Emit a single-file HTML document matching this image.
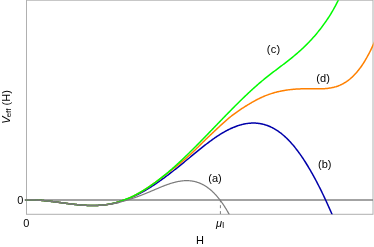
<!DOCTYPE html>
<html><head><meta charset="utf-8"><style>
html,body{margin:0;padding:0;background:#fff;}
svg{display:block;will-change:transform;opacity:0.9999;}
text{font-family:"Liberation Sans",sans-serif;fill:#000;}
</style></head><body>
<svg width="374" height="247" viewBox="0 0 374 247">
<defs><clipPath id="c"><rect x="24" y="0.2" width="349.5" height="214.10000000000002"/></clipPath></defs>
<rect x="26.5" y="0.2" width="346.5" height="214.10000000000002" fill="none" stroke="#b0b0b0" stroke-width="1"/>
<g fill="none" stroke-linejoin="round">
<line x1="25" y1="199.9" x2="373" y2="199.9" stroke="#858585" stroke-width="1.5"/>
<g clip-path="url(#c)">
<line x1="220.4" y1="199.9" x2="220.4" y2="214.3" stroke="#808080" stroke-width="1" stroke-dasharray="3 2.9" stroke-dashoffset="0.6"/>
<path d="M25.20,199.97 L25.82,199.94 L26.44,199.92 L27.05,199.91 L27.67,199.89 L28.29,199.88 L28.91,199.88 L29.52,199.87 L30.14,199.88 L30.76,199.88 L31.38,199.89 L31.99,199.90 L32.61,199.91 L33.23,199.92 L33.85,199.94 L34.46,199.97 L35.08,199.99 L35.70,200.02 L36.32,200.05 L36.94,200.08 L37.55,200.11 L38.17,200.15 L38.79,200.19 L39.41,200.23 L40.02,200.28 L40.64,200.32 L41.26,200.37 L41.88,200.42 L42.49,200.48 L43.11,200.53 L43.73,200.59 L44.35,200.65 L44.96,200.71 L45.58,200.77 L46.20,200.83 L46.82,200.90 L47.43,200.96 L48.05,201.03 L48.67,201.10 L49.29,201.17 L49.91,201.24 L50.52,201.31 L51.14,201.39 L51.76,201.46 L52.38,201.54 L52.99,201.62 L53.61,201.69 L54.23,201.77 L54.85,201.85 L55.46,201.93 L56.08,202.01 L56.70,202.09 L57.32,202.18 L57.93,202.26 L58.55,202.34 L59.17,202.42 L59.79,202.51 L60.41,202.59 L61.02,202.67 L61.64,202.75 L62.26,202.84 L62.88,202.92 L63.49,203.00 L64.11,203.09 L64.73,203.17 L65.35,203.25 L65.96,203.33 L66.58,203.41 L67.20,203.49 L67.82,203.57 L68.43,203.65 L69.05,203.73 L69.67,203.81 L70.29,203.88 L70.91,203.96 L71.52,204.03 L72.14,204.11 L72.76,204.18 L73.38,204.25 L73.99,204.32 L74.61,204.39 L75.23,204.46 L75.85,204.52 L76.46,204.59 L77.08,204.65 L77.70,204.71 L78.32,204.77 L78.93,204.83 L79.55,204.88 L80.17,204.94 L80.79,204.99 L81.40,205.04 L82.02,205.09 L82.64,205.13 L83.26,205.18 L83.88,205.22 L84.49,205.26 L85.11,205.29 L85.73,205.33 L86.35,205.36 L86.96,205.39 L87.58,205.41 L88.20,205.44 L88.82,205.46 L89.43,205.48 L90.05,205.49 L90.67,205.50 L91.29,205.51 L91.90,205.52 L92.52,205.52 L93.14,205.52 L93.76,205.52 L94.38,205.51 L94.99,205.50 L95.61,205.48 L96.23,205.47 L96.85,205.45 L97.46,205.42 L98.08,205.39 L98.70,205.36 L99.32,205.32 L99.93,205.28 L100.55,205.24 L101.17,205.19 L101.79,205.14 L102.40,205.08 L103.02,205.02 L103.64,204.95 L104.26,204.88 L104.87,204.81 L105.49,204.73 L106.11,204.65 L106.73,204.56 L107.35,204.47 L107.96,204.37 L108.58,204.27 L109.20,204.16 L109.82,204.05 L110.43,203.93 L111.05,203.81 L111.67,203.68 L112.29,203.55 L112.90,203.41 L113.52,203.26 L114.14,203.10 L114.76,202.94 L115.37,202.77 L115.99,202.60 L116.61,202.42 L117.23,202.24 L117.85,202.06 L118.46,201.87 L119.08,201.68 L119.70,201.49 L120.32,201.30 L120.93,201.11 L121.55,200.91 L122.17,200.72 L122.79,200.52 L123.40,200.32 L124.02,200.12 L124.64,199.92 L125.26,199.71 L125.87,199.50 L126.49,199.29 L127.11,199.07 L127.73,198.84 L128.35,198.61 L128.96,198.37 L129.58,198.13 L130.20,197.88 L130.82,197.63 L131.43,197.37 L132.05,197.11 L132.67,196.84 L133.29,196.57 L133.90,196.29 L134.52,196.01 L135.14,195.73 L135.76,195.43 L136.37,195.14 L136.99,194.84 L137.61,194.53 L138.23,194.22 L138.84,193.91 L139.46,193.59 L140.08,193.27 L140.70,192.94 L141.32,192.61 L141.93,192.27 L142.55,191.93 L143.17,191.59 L143.79,191.24 L144.40,190.89 L145.02,190.54 L145.64,190.18 L146.26,189.81 L146.87,189.45 L147.49,189.07 L148.11,188.70 L148.73,188.32 L149.34,187.94 L149.96,187.55 L150.58,187.16 L151.20,186.77 L151.82,186.38 L152.43,185.98 L153.05,185.57 L153.67,185.17 L154.29,184.76 L154.90,184.35 L155.52,183.93 L156.14,183.51 L156.76,183.09 L157.37,182.67 L157.99,182.24 L158.61,181.81 L159.23,181.38 L159.84,180.94 L160.46,180.50 L161.08,180.06 L161.70,179.62 L162.32,179.17 L162.93,178.72 L163.55,178.27 L164.17,177.82 L164.79,177.36 L165.40,176.90 L166.02,176.44 L166.64,175.98 L167.26,175.51 L167.87,175.05 L168.49,174.58 L169.11,174.10 L169.73,173.63 L170.34,173.15 L170.96,172.68 L171.58,172.20 L172.20,171.72 L172.81,171.23 L173.43,170.75 L174.05,170.26 L174.67,169.78 L175.29,169.29 L175.90,168.80 L176.52,168.30 L177.14,167.81 L177.76,167.31 L178.37,166.82 L178.99,166.32 L179.61,165.82 L180.23,165.32 L180.84,164.82 L181.46,164.32 L182.08,163.81 L182.70,163.31 L183.31,162.80 L183.93,162.30 L184.55,161.79 L185.17,161.28 L185.79,160.78 L186.40,160.27 L187.02,159.76 L187.64,159.25 L188.26,158.74 L188.87,158.23 L189.49,157.72 L190.11,157.20 L190.73,156.69 L191.34,156.18 L191.96,155.67 L192.58,155.16 L193.20,154.65 L193.81,154.14 L194.43,153.63 L195.05,153.13 L195.67,152.62 L196.28,152.11 L196.90,151.61 L197.52,151.10 L198.14,150.60 L198.76,150.10 L199.37,149.60 L199.99,149.10 L200.61,148.61 L201.23,148.11 L201.84,147.62 L202.46,147.13 L203.08,146.64 L203.70,146.15 L204.31,145.67 L204.93,145.19 L205.55,144.71 L206.17,144.23 L206.78,143.76 L207.40,143.29 L208.02,142.82 L208.64,142.36 L209.26,141.89 L209.87,141.44 L210.49,140.98 L211.11,140.53 L211.73,140.08 L212.34,139.64 L212.96,139.20 L213.58,138.76 L214.20,138.33 L214.81,137.90 L215.43,137.47 L216.05,137.05 L216.67,136.64 L217.28,136.22 L217.90,135.82 L218.52,135.42 L219.14,135.02 L219.76,134.63 L220.37,134.24 L220.99,133.86 L221.61,133.48 L222.23,133.11 L222.84,132.74 L223.46,132.38 L224.08,132.03 L224.70,131.68 L225.31,131.33 L225.93,131.00 L226.55,130.67 L227.17,130.34 L227.78,130.02 L228.40,129.71 L229.02,129.40 L229.64,129.10 L230.25,128.80 L230.87,128.52 L231.49,128.24 L232.11,127.96 L232.73,127.69 L233.34,127.43 L233.96,127.18 L234.58,126.93 L235.20,126.69 L235.81,126.46 L236.43,126.23 L237.05,126.01 L237.67,125.80 L238.28,125.59 L238.90,125.40 L239.52,125.21 L240.14,125.02 L240.75,124.85 L241.37,124.68 L241.99,124.52 L242.61,124.37 L243.23,124.23 L243.84,124.09 L244.46,123.96 L245.08,123.84 L245.70,123.73 L246.31,123.63 L246.93,123.53 L247.55,123.45 L248.17,123.37 L248.78,123.30 L249.40,123.24 L250.02,123.19 L250.64,123.14 L251.25,123.11 L251.87,123.08 L252.49,123.07 L253.11,123.06 L253.73,123.06 L254.34,123.07 L254.96,123.09 L255.58,123.12 L256.20,123.16 L256.81,123.21 L257.43,123.26 L258.05,123.33 L258.67,123.41 L259.28,123.49 L259.90,123.59 L260.52,123.70 L261.14,123.81 L261.75,123.94 L262.37,124.08 L262.99,124.22 L263.61,124.38 L264.22,124.55 L264.84,124.72 L265.46,124.91 L266.08,125.11 L266.70,125.32 L267.31,125.54 L267.93,125.77 L268.55,126.01 L269.17,126.26 L269.78,126.53 L270.40,126.80 L271.02,127.09 L271.64,127.38 L272.25,127.69 L272.87,128.01 L273.49,128.34 L274.11,128.68 L274.72,129.04 L275.34,129.40 L275.96,129.78 L276.58,130.17 L277.20,130.57 L277.81,130.98 L278.43,131.40 L279.05,131.84 L279.67,132.29 L280.28,132.75 L280.90,133.22 L281.52,133.71 L282.14,134.21 L282.75,134.72 L283.37,135.24 L283.99,135.77 L284.61,136.32 L285.22,136.88 L285.84,137.45 L286.46,138.04 L287.08,138.64 L287.69,139.25 L288.31,139.88 L288.93,140.52 L289.55,141.17 L290.17,141.83 L290.78,142.51 L291.40,143.20 L292.02,143.90 L292.64,144.62 L293.25,145.35 L293.87,146.09 L294.49,146.84 L295.11,147.61 L295.72,148.39 L296.34,149.18 L296.96,149.98 L297.58,150.80 L298.19,151.62 L298.81,152.46 L299.43,153.32 L300.05,154.18 L300.67,155.06 L301.28,155.95 L301.90,156.85 L302.52,157.76 L303.14,158.68 L303.75,159.62 L304.37,160.57 L304.99,161.53 L305.61,162.50 L306.22,163.48 L306.84,164.48 L307.46,165.48 L308.08,166.50 L308.69,167.53 L309.31,168.57 L309.93,169.62 L310.55,170.69 L311.17,171.76 L311.78,172.85 L312.40,173.94 L313.02,175.05 L313.64,176.17 L314.25,177.30 L314.87,178.44 L315.49,179.59 L316.11,180.75 L316.72,181.93 L317.34,183.11 L317.96,184.31 L318.58,185.51 L319.19,186.73 L319.81,187.96 L320.43,189.19 L321.05,190.44 L321.66,191.70 L322.28,192.97 L322.90,194.25 L323.52,195.53 L324.14,196.83 L324.75,198.14 L325.37,199.46 L325.99,200.79 L326.61,202.13 L327.22,203.48 L327.84,204.84 L328.46,206.21 L329.08,207.59 L329.69,208.98 L330.31,210.38 L330.93,211.78 L331.55,213.20 L332.16,214.63 L332.78,216.07 L333.40,217.51" stroke="#0000aa" stroke-width="1.5"/>
<path d="M25.20,199.97 L25.90,199.94 L26.61,199.92 L27.31,199.90 L28.01,199.89 L28.72,199.88 L29.42,199.87 L30.12,199.87 L30.82,199.88 L31.53,199.89 L32.23,199.90 L32.93,199.92 L33.64,199.94 L34.34,199.96 L35.04,199.99 L35.75,200.02 L36.45,200.05 L37.15,200.09 L37.85,200.13 L38.56,200.18 L39.26,200.22 L39.96,200.27 L40.67,200.33 L41.37,200.38 L42.07,200.44 L42.78,200.50 L43.48,200.56 L44.18,200.63 L44.88,200.70 L45.59,200.77 L46.29,200.84 L46.99,200.91 L47.70,200.99 L48.40,201.07 L49.10,201.15 L49.81,201.23 L50.51,201.31 L51.21,201.40 L51.91,201.48 L52.62,201.57 L53.32,201.66 L54.02,201.75 L54.73,201.84 L55.43,201.93 L56.13,202.02 L56.84,202.11 L57.54,202.20 L58.24,202.30 L58.94,202.39 L59.65,202.49 L60.35,202.58 L61.05,202.68 L61.76,202.77 L62.46,202.86 L63.16,202.96 L63.87,203.05 L64.57,203.15 L65.27,203.24 L65.97,203.33 L66.68,203.42 L67.38,203.52 L68.08,203.61 L68.79,203.70 L69.49,203.78 L70.19,203.87 L70.90,203.96 L71.60,204.04 L72.30,204.13 L73.00,204.21 L73.71,204.29 L74.41,204.37 L75.11,204.44 L75.82,204.52 L76.52,204.59 L77.22,204.66 L77.93,204.73 L78.63,204.80 L79.33,204.86 L80.03,204.93 L80.74,204.99 L81.44,205.04 L82.14,205.10 L82.85,205.15 L83.55,205.20 L84.25,205.24 L84.96,205.28 L85.66,205.32 L86.36,205.36 L87.06,205.39 L87.77,205.42 L88.47,205.45 L89.17,205.47 L89.88,205.49 L90.58,205.50 L91.28,205.51 L91.99,205.52 L92.69,205.52 L93.39,205.52 L94.09,205.51 L94.80,205.50 L95.50,205.49 L96.20,205.47 L96.91,205.44 L97.61,205.41 L98.31,205.38 L99.02,205.34 L99.72,205.30 L100.42,205.25 L101.12,205.19 L101.83,205.13 L102.53,205.07 L103.23,205.00 L103.94,204.92 L104.64,204.84 L105.34,204.75 L106.05,204.66 L106.75,204.56 L107.45,204.45 L108.15,204.34 L108.86,204.22 L109.56,204.10 L110.26,203.97 L110.97,203.83 L111.67,203.68 L112.37,203.53 L113.08,203.37 L113.78,203.20 L114.48,203.03 L115.18,202.84 L115.89,202.65 L116.59,202.46 L117.29,202.25 L118.00,202.05 L118.70,201.84 L119.40,201.62 L120.11,201.40 L120.81,201.17 L121.51,200.95 L122.21,200.71 L122.92,200.47 L123.62,200.23 L124.32,199.98 L125.03,199.73 L125.73,199.46 L126.43,199.20 L127.14,198.92 L127.84,198.63 L128.54,198.34 L129.24,198.04 L129.95,197.73 L130.65,197.41 L131.35,197.09 L132.06,196.76 L132.76,196.42 L133.46,196.07 L134.17,195.72 L134.87,195.36 L135.57,194.99 L136.27,194.62 L136.98,194.24 L137.68,193.85 L138.38,193.46 L139.09,193.06 L139.79,192.65 L140.49,192.24 L141.20,191.82 L141.90,191.40 L142.60,190.97 L143.31,190.54 L144.01,190.10 L144.71,189.65 L145.41,189.20 L146.12,188.75 L146.82,188.29 L147.52,187.83 L148.23,187.36 L148.93,186.88 L149.63,186.41 L150.34,185.93 L151.04,185.44 L151.74,184.95 L152.44,184.46 L153.15,183.96 L153.85,183.46 L154.55,182.95 L155.26,182.45 L155.96,181.93 L156.66,181.42 L157.37,180.90 L158.07,180.38 L158.77,179.86 L159.47,179.33 L160.18,178.81 L160.88,178.28 L161.58,177.74 L162.29,177.21 L162.99,176.67 L163.69,176.14 L164.40,175.60 L165.10,175.05 L165.80,174.51 L166.50,173.97 L167.21,173.42 L167.91,172.87 L168.61,172.33 L169.32,171.78 L170.02,171.23 L170.72,170.68 L171.43,170.13 L172.13,169.58 L172.83,169.02 L173.53,168.47 L174.24,167.92 L174.94,167.36 L175.64,166.80 L176.35,166.24 L177.05,165.68 L177.75,165.12 L178.46,164.55 L179.16,163.98 L179.86,163.41 L180.56,162.83 L181.27,162.26 L181.97,161.67 L182.67,161.09 L183.38,160.50 L184.08,159.91 L184.78,159.31 L185.49,158.71 L186.19,158.10 L186.89,157.49 L187.59,156.87 L188.30,156.25 L189.00,155.62 L189.70,154.99 L190.41,154.35 L191.11,153.70 L191.81,153.05 L192.52,152.40 L193.22,151.73 L193.92,151.06 L194.62,150.39 L195.33,149.70 L196.03,149.02 L196.73,148.33 L197.44,147.64 L198.14,146.94 L198.84,146.24 L199.55,145.54 L200.25,144.85 L200.95,144.15 L201.65,143.45 L202.36,142.75 L203.06,142.06 L203.76,141.37 L204.47,140.68 L205.17,140.00 L205.87,139.32 L206.58,138.64 L207.28,137.96 L207.98,137.29 L208.68,136.61 L209.39,135.94 L210.09,135.28 L210.79,134.61 L211.50,133.94 L212.20,133.28 L212.90,132.62 L213.61,131.96 L214.31,131.30 L215.01,130.64 L215.71,129.98 L216.42,129.33 L217.12,128.67 L217.82,128.02 L218.53,127.37 L219.23,126.71 L219.93,126.06 L220.64,125.41 L221.34,124.76 L222.04,124.12 L222.74,123.48 L223.45,122.84 L224.15,122.21 L224.85,121.58 L225.56,120.95 L226.26,120.34 L226.96,119.73 L227.67,119.12 L228.37,118.53 L229.07,117.94 L229.77,117.36 L230.48,116.79 L231.18,116.23 L231.88,115.68 L232.59,115.14 L233.29,114.60 L233.99,114.07 L234.70,113.55 L235.40,113.04 L236.10,112.53 L236.80,112.03 L237.51,111.53 L238.21,111.05 L238.91,110.56 L239.62,110.09 L240.32,109.62 L241.02,109.15 L241.73,108.69 L242.43,108.23 L243.13,107.78 L243.83,107.33 L244.54,106.89 L245.24,106.44 L245.94,106.01 L246.65,105.57 L247.35,105.14 L248.05,104.71 L248.76,104.29 L249.46,103.86 L250.16,103.45 L250.86,103.03 L251.57,102.62 L252.27,102.22 L252.97,101.82 L253.68,101.43 L254.38,101.04 L255.08,100.65 L255.79,100.27 L256.49,99.90 L257.19,99.53 L257.89,99.17 L258.60,98.82 L259.30,98.47 L260.00,98.13 L260.71,97.79 L261.41,97.46 L262.11,97.14 L262.82,96.83 L263.52,96.52 L264.22,96.22 L264.93,95.93 L265.63,95.65 L266.33,95.37 L267.03,95.10 L267.74,94.84 L268.44,94.58 L269.14,94.33 L269.85,94.09 L270.55,93.86 L271.25,93.63 L271.96,93.40 L272.66,93.19 L273.36,92.98 L274.06,92.77 L274.77,92.58 L275.47,92.39 L276.17,92.20 L276.88,92.02 L277.58,91.85 L278.28,91.68 L278.99,91.52 L279.69,91.36 L280.39,91.21 L281.09,91.06 L281.80,90.92 L282.50,90.79 L283.20,90.66 L283.91,90.53 L284.61,90.41 L285.31,90.30 L286.02,90.19 L286.72,90.08 L287.42,89.98 L288.12,89.88 L288.83,89.79 L289.53,89.71 L290.23,89.62 L290.94,89.54 L291.64,89.47 L292.34,89.40 L293.05,89.33 L293.75,89.27 L294.45,89.21 L295.15,89.16 L295.86,89.11 L296.56,89.06 L297.26,89.02 L297.97,88.98 L298.67,88.94 L299.37,88.91 L300.08,88.88 L300.78,88.85 L301.48,88.82 L302.18,88.80 L302.89,88.78 L303.59,88.77 L304.29,88.76 L305.00,88.75 L305.70,88.74 L306.40,88.73 L307.11,88.73 L307.81,88.73 L308.51,88.73 L309.21,88.73 L309.92,88.74 L310.62,88.75 L311.32,88.76 L312.03,88.77 L312.73,88.78 L313.43,88.79 L314.14,88.80 L314.84,88.81 L315.54,88.82 L316.24,88.83 L316.95,88.83 L317.65,88.84 L318.35,88.84 L319.06,88.83 L319.76,88.83 L320.46,88.82 L321.17,88.80 L321.87,88.78 L322.57,88.75 L323.27,88.72 L323.98,88.68 L324.68,88.64 L325.38,88.59 L326.09,88.53 L326.79,88.46 L327.49,88.39 L328.20,88.30 L328.90,88.21 L329.60,88.10 L330.30,87.99 L331.01,87.87 L331.71,87.73 L332.41,87.58 L333.12,87.43 L333.82,87.26 L334.52,87.07 L335.23,86.88 L335.93,86.67 L336.63,86.44 L337.33,86.20 L338.04,85.95 L338.74,85.68 L339.44,85.40 L340.15,85.10 L340.85,84.78 L341.55,84.45 L342.26,84.09 L342.96,83.73 L343.66,83.34 L344.36,82.93 L345.07,82.51 L345.77,82.06 L346.47,81.60 L347.18,81.11 L347.88,80.61 L348.58,80.08 L349.29,79.53 L349.99,78.96 L350.69,78.36 L351.39,77.75 L352.10,77.11 L352.80,76.44 L353.50,75.76 L354.21,75.04 L354.91,74.30 L355.61,73.54 L356.32,72.75 L357.02,71.93 L357.72,71.09 L358.42,70.22 L359.13,69.32 L359.83,68.40 L360.53,67.44 L361.24,66.46 L361.94,65.45 L362.64,64.40 L363.35,63.33 L364.05,62.23 L364.75,61.09 L365.45,59.93 L366.16,58.73 L366.86,57.50 L367.56,56.23 L368.27,54.94 L368.97,53.61 L369.67,52.24 L370.38,50.84 L371.08,49.41 L371.78,47.94 L372.48,46.43 L373.19,44.89 L373.89,43.31 L374.59,41.70 L375.30,40.04 L376.00,38.35" stroke="#ff8000" stroke-width="1.5"/>
<path d="M25.20,199.97 L25.83,199.94 L26.47,199.92 L27.10,199.90 L27.74,199.89 L28.37,199.88 L29.00,199.88 L29.64,199.87 L30.27,199.88 L30.90,199.88 L31.54,199.89 L32.17,199.90 L32.81,199.91 L33.44,199.93 L34.07,199.95 L34.71,199.97 L35.34,200.00 L35.98,200.03 L36.61,200.06 L37.24,200.10 L37.88,200.13 L38.51,200.17 L39.15,200.22 L39.78,200.26 L40.41,200.31 L41.05,200.36 L41.68,200.41 L42.31,200.46 L42.95,200.52 L43.58,200.57 L44.22,200.63 L44.85,200.69 L45.48,200.76 L46.12,200.82 L46.75,200.89 L47.39,200.96 L48.02,201.03 L48.65,201.10 L49.29,201.17 L49.92,201.24 L50.55,201.32 L51.19,201.39 L51.82,201.47 L52.46,201.55 L53.09,201.63 L53.72,201.71 L54.36,201.79 L54.99,201.87 L55.63,201.95 L56.26,202.04 L56.89,202.12 L57.53,202.20 L58.16,202.29 L58.79,202.37 L59.43,202.46 L60.06,202.54 L60.70,202.63 L61.33,202.71 L61.96,202.80 L62.60,202.88 L63.23,202.97 L63.87,203.05 L64.50,203.14 L65.13,203.22 L65.77,203.30 L66.40,203.39 L67.04,203.47 L67.67,203.55 L68.30,203.63 L68.94,203.71 L69.57,203.79 L70.20,203.87 L70.84,203.95 L71.47,204.03 L72.11,204.10 L72.74,204.18 L73.37,204.25 L74.01,204.32 L74.64,204.39 L75.28,204.46 L75.91,204.53 L76.54,204.59 L77.18,204.66 L77.81,204.72 L78.44,204.78 L79.08,204.84 L79.71,204.90 L80.35,204.95 L80.98,205.01 L81.61,205.06 L82.25,205.10 L82.88,205.15 L83.52,205.19 L84.15,205.24 L84.78,205.27 L85.42,205.31 L86.05,205.34 L86.69,205.38 L87.32,205.40 L87.95,205.43 L88.59,205.45 L89.22,205.47 L89.85,205.49 L90.49,205.50 L91.12,205.51 L91.76,205.52 L92.39,205.52 L93.02,205.52 L93.66,205.52 L94.29,205.51 L94.93,205.50 L95.56,205.49 L96.19,205.47 L96.83,205.45 L97.46,205.42 L98.09,205.39 L98.73,205.36 L99.36,205.32 L100.00,205.28 L100.63,205.23 L101.26,205.18 L101.90,205.13 L102.53,205.07 L103.17,205.00 L103.80,204.94 L104.43,204.86 L105.07,204.79 L105.70,204.70 L106.34,204.62 L106.97,204.53 L107.60,204.43 L108.24,204.33 L108.87,204.22 L109.50,204.11 L110.14,203.99 L110.77,203.87 L111.41,203.74 L112.04,203.60 L112.67,203.47 L113.31,203.32 L113.94,203.17 L114.58,203.01 L115.21,202.85 L115.84,202.68 L116.48,202.51 L117.11,202.33 L117.74,202.15 L118.38,201.96 L119.01,201.77 L119.65,201.56 L120.28,201.36 L120.91,201.15 L121.55,200.93 L122.18,200.71 L122.82,200.48 L123.45,200.25 L124.08,200.01 L124.72,199.77 L125.35,199.52 L125.98,199.27 L126.62,199.01 L127.25,198.75 L127.89,198.48 L128.52,198.21 L129.15,197.93 L129.79,197.65 L130.42,197.36 L131.06,197.07 L131.69,196.77 L132.32,196.46 L132.96,196.16 L133.59,195.84 L134.23,195.53 L134.86,195.20 L135.49,194.88 L136.13,194.55 L136.76,194.21 L137.39,193.87 L138.03,193.52 L138.66,193.17 L139.30,192.82 L139.93,192.46 L140.56,192.09 L141.20,191.72 L141.83,191.35 L142.47,190.97 L143.10,190.59 L143.73,190.21 L144.37,189.82 L145.00,189.42 L145.63,189.02 L146.27,188.62 L146.90,188.21 L147.54,187.80 L148.17,187.38 L148.80,186.96 L149.44,186.53 L150.07,186.11 L150.71,185.67 L151.34,185.24 L151.97,184.79 L152.61,184.35 L153.24,183.90 L153.88,183.45 L154.51,182.99 L155.14,182.53 L155.78,182.06 L156.41,181.59 L157.04,181.12 L157.68,180.64 L158.31,180.16 L158.95,179.68 L159.58,179.19 L160.21,178.70 L160.85,178.20 L161.48,177.70 L162.12,177.20 L162.75,176.70 L163.38,176.19 L164.02,175.67 L164.65,175.15 L165.28,174.63 L165.92,174.11 L166.55,173.58 L167.19,173.05 L167.82,172.52 L168.45,171.98 L169.09,171.44 L169.72,170.90 L170.36,170.35 L170.99,169.80 L171.62,169.25 L172.26,168.69 L172.89,168.13 L173.53,167.57 L174.16,167.01 L174.79,166.44 L175.43,165.87 L176.06,165.29 L176.69,164.72 L177.33,164.14 L177.96,163.56 L178.60,162.98 L179.23,162.39 L179.86,161.80 L180.50,161.21 L181.13,160.62 L181.77,160.02 L182.40,159.42 L183.03,158.82 L183.67,158.22 L184.30,157.62 L184.93,157.01 L185.57,156.40 L186.20,155.79 L186.84,155.18 L187.47,154.56 L188.10,153.94 L188.74,153.33 L189.37,152.70 L190.01,152.08 L190.64,151.46 L191.27,150.83 L191.91,150.21 L192.54,149.58 L193.17,148.95 L193.81,148.31 L194.44,147.68 L195.08,147.05 L195.71,146.41 L196.34,145.77 L196.98,145.13 L197.61,144.49 L198.25,143.85 L198.88,143.21 L199.51,142.56 L200.15,141.92 L200.78,141.27 L201.42,140.63 L202.05,139.98 L202.68,139.33 L203.32,138.68 L203.95,138.03 L204.58,137.38 L205.22,136.73 L205.85,136.07 L206.49,135.42 L207.12,134.77 L207.75,134.11 L208.39,133.46 L209.02,132.80 L209.66,132.15 L210.29,131.49 L210.92,130.83 L211.56,130.18 L212.19,129.52 L212.82,128.86 L213.46,128.20 L214.09,127.55 L214.73,126.89 L215.36,126.23 L215.99,125.57 L216.63,124.92 L217.26,124.26 L217.90,123.60 L218.53,122.94 L219.16,122.29 L219.80,121.63 L220.43,120.97 L221.07,120.32 L221.70,119.66 L222.33,119.01 L222.97,118.35 L223.60,117.70 L224.23,117.05 L224.87,116.39 L225.50,115.74 L226.14,115.09 L226.77,114.44 L227.40,113.79 L228.04,113.14 L228.67,112.49 L229.31,111.85 L229.94,111.20 L230.57,110.56 L231.21,109.91 L231.84,109.27 L232.47,108.63 L233.11,107.99 L233.74,107.35 L234.38,106.72 L235.01,106.08 L235.64,105.45 L236.28,104.81 L236.91,104.18 L237.55,103.55 L238.18,102.92 L238.81,102.30 L239.45,101.67 L240.08,101.05 L240.72,100.43 L241.35,99.81 L241.98,99.20 L242.62,98.58 L243.25,97.97 L243.88,97.36 L244.52,96.75 L245.15,96.14 L245.79,95.54 L246.42,94.94 L247.05,94.34 L247.69,93.74 L248.32,93.14 L248.96,92.55 L249.59,91.96 L250.22,91.37 L250.86,90.79 L251.49,90.21 L252.12,89.63 L252.76,89.05 L253.39,88.48 L254.03,87.91 L254.66,87.34 L255.29,86.77 L255.93,86.21 L256.56,85.65 L257.20,85.09 L257.83,84.54 L258.46,83.99 L259.10,83.44 L259.73,82.90 L260.36,82.36 L261.00,81.82 L261.63,81.29 L262.27,80.76 L262.90,80.23 L263.53,79.71 L264.17,79.19 L264.80,78.67 L265.44,78.16 L266.07,77.65 L266.70,77.14 L267.34,76.64 L267.97,76.14 L268.61,75.64 L269.24,75.14 L269.87,74.65 L270.51,74.16 L271.14,73.67 L271.77,73.18 L272.41,72.69 L273.04,72.21 L273.68,71.72 L274.31,71.24 L274.94,70.76 L275.58,70.28 L276.21,69.80 L276.85,69.32 L277.48,68.84 L278.11,68.36 L278.75,67.88 L279.38,67.40 L280.01,66.92 L280.65,66.44 L281.28,65.96 L281.92,65.48 L282.55,65.00 L283.18,64.52 L283.82,64.03 L284.45,63.55 L285.09,63.06 L285.72,62.57 L286.35,62.08 L286.99,61.59 L287.62,61.09 L288.26,60.60 L288.89,60.10 L289.52,59.60 L290.16,59.09 L290.79,58.59 L291.42,58.08 L292.06,57.56 L292.69,57.05 L293.33,56.53 L293.96,56.00 L294.59,55.47 L295.23,54.94 L295.86,54.41 L296.50,53.87 L297.13,53.32 L297.76,52.77 L298.40,52.22 L299.03,51.66 L299.66,51.10 L300.30,50.53 L300.93,49.96 L301.57,49.38 L302.20,48.79 L302.83,48.20 L303.47,47.60 L304.10,47.00 L304.74,46.39 L305.37,45.78 L306.00,45.15 L306.64,44.52 L307.27,43.89 L307.91,43.25 L308.54,42.60 L309.17,41.94 L309.81,41.27 L310.44,40.60 L311.07,39.92 L311.71,39.23 L312.34,38.54 L312.98,37.83 L313.61,37.12 L314.24,36.40 L314.88,35.66 L315.51,34.92 L316.15,34.18 L316.78,33.42 L317.41,32.65 L318.05,31.87 L318.68,31.09 L319.31,30.29 L319.95,29.49 L320.58,28.67 L321.22,27.84 L321.85,27.01 L322.48,26.16 L323.12,25.30 L323.75,24.43 L324.39,23.55 L325.02,22.66 L325.65,21.76 L326.29,20.84 L326.92,19.91 L327.55,18.97 L328.19,18.01 L328.82,17.04 L329.46,16.06 L330.09,15.05 L330.72,14.03 L331.36,12.99 L331.99,11.93 L332.63,10.85 L333.26,9.75 L333.89,8.63 L334.53,7.49 L335.16,6.32 L335.80,5.13 L336.43,3.92 L337.06,2.68 L337.70,1.42 L338.33,0.13 L338.96,-1.19 L339.60,-2.54 L340.23,-3.92 L340.87,-5.32 L341.50,-6.76" stroke="#00fa00" stroke-width="1.5"/>
<path d="M25.20,199.97 L25.61,199.95 L26.02,199.93 L26.43,199.92 L26.84,199.91 L27.26,199.90 L27.67,199.89 L28.08,199.89 L28.49,199.88 L28.90,199.88 L29.31,199.88 L29.72,199.87 L30.13,199.88 L30.55,199.88 L30.96,199.88 L31.37,199.89 L31.78,199.89 L32.19,199.90 L32.60,199.91 L33.01,199.92 L33.42,199.93 L33.84,199.94 L34.25,199.96 L34.66,199.97 L35.07,199.99 L35.48,200.01 L35.89,200.03 L36.30,200.05 L36.71,200.07 L37.13,200.09 L37.54,200.11 L37.95,200.14 L38.36,200.16 L38.77,200.19 L39.18,200.22 L39.59,200.25 L40.00,200.28 L40.42,200.31 L40.83,200.34 L41.24,200.37 L41.65,200.41 L42.06,200.44 L42.47,200.47 L42.88,200.51 L43.29,200.55 L43.71,200.59 L44.12,200.62 L44.53,200.66 L44.94,200.70 L45.35,200.74 L45.76,200.79 L46.17,200.83 L46.58,200.87 L46.99,200.92 L47.41,200.96 L47.82,201.00 L48.23,201.05 L48.64,201.10 L49.05,201.14 L49.46,201.19 L49.87,201.24 L50.28,201.29 L50.70,201.34 L51.11,201.38 L51.52,201.43 L51.93,201.48 L52.34,201.54 L52.75,201.59 L53.16,201.64 L53.57,201.69 L53.99,201.74 L54.40,201.79 L54.81,201.85 L55.22,201.90 L55.63,201.95 L56.04,202.01 L56.45,202.06 L56.86,202.12 L57.28,202.17 L57.69,202.22 L58.10,202.28 L58.51,202.33 L58.92,202.39 L59.33,202.44 L59.74,202.50 L60.15,202.55 L60.57,202.61 L60.98,202.66 L61.39,202.72 L61.80,202.78 L62.21,202.83 L62.62,202.89 L63.03,202.94 L63.44,203.00 L63.85,203.05 L64.27,203.11 L64.68,203.16 L65.09,203.21 L65.50,203.27 L65.91,203.32 L66.32,203.38 L66.73,203.43 L67.14,203.48 L67.56,203.54 L67.97,203.59 L68.38,203.64 L68.79,203.70 L69.20,203.75 L69.61,203.80 L70.02,203.85 L70.43,203.90 L70.85,203.95 L71.26,204.00 L71.67,204.05 L72.08,204.10 L72.49,204.15 L72.90,204.20 L73.31,204.24 L73.72,204.29 L74.14,204.34 L74.55,204.38 L74.96,204.43 L75.37,204.47 L75.78,204.52 L76.19,204.56 L76.60,204.60 L77.01,204.64 L77.43,204.68 L77.84,204.72 L78.25,204.76 L78.66,204.80 L79.07,204.84 L79.48,204.88 L79.89,204.91 L80.30,204.95 L80.72,204.98 L81.13,205.02 L81.54,205.05 L81.95,205.08 L82.36,205.11 L82.77,205.14 L83.18,205.17 L83.59,205.20 L84.00,205.23 L84.42,205.25 L84.83,205.28 L85.24,205.30 L85.65,205.32 L86.06,205.34 L86.47,205.37 L86.88,205.38 L87.29,205.40 L87.71,205.42 L88.12,205.43 L88.53,205.45 L88.94,205.46 L89.35,205.47 L89.76,205.48 L90.17,205.49 L90.58,205.50 L91.00,205.51 L91.41,205.51 L91.82,205.52 L92.23,205.52 L92.64,205.52 L93.05,205.52 L93.46,205.52 L93.87,205.51 L94.29,205.51 L94.70,205.50 L95.11,205.49 L95.52,205.49 L95.93,205.47 L96.34,205.46 L96.75,205.45 L97.16,205.43 L97.58,205.41 L97.99,205.39 L98.40,205.37 L98.81,205.35 L99.22,205.33 L99.63,205.30 L100.04,205.27 L100.45,205.24 L100.86,205.21 L101.28,205.18 L101.69,205.15 L102.10,205.11 L102.51,205.08 L102.92,205.04 L103.33,205.00 L103.74,204.96 L104.15,204.91 L104.57,204.87 L104.98,204.82 L105.39,204.77 L105.80,204.72 L106.21,204.67 L106.62,204.62 L107.03,204.57 L107.44,204.51 L107.86,204.45 L108.27,204.40 L108.68,204.34 L109.09,204.27 L109.50,204.21 L109.91,204.15 L110.32,204.08 L110.73,204.01 L111.15,203.94 L111.56,203.88 L111.97,203.80 L112.38,203.73 L112.79,203.66 L113.20,203.58 L113.61,203.51 L114.02,203.43 L114.44,203.35 L114.85,203.27 L115.26,203.18 L115.67,203.10 L116.08,203.01 L116.49,202.93 L116.90,202.84 L117.31,202.75 L117.73,202.65 L118.14,202.56 L118.55,202.46 L118.96,202.36" stroke="#6c6c6c" stroke-width="1.5" stroke-linecap="round"/>
<path d="M25.20,199.97 L25.61,199.95 L26.02,199.93 L26.43,199.92 L26.84,199.91 L27.26,199.90 L27.67,199.89 L28.08,199.89 L28.49,199.88 L28.90,199.88 L29.31,199.88 L29.72,199.87 L30.13,199.88 L30.55,199.88 L30.96,199.88 L31.37,199.89 L31.78,199.89 L32.19,199.90 L32.60,199.91 L33.01,199.92 L33.42,199.93 L33.84,199.94 L34.25,199.96 L34.66,199.97 L35.07,199.99 L35.48,200.01 L35.89,200.03 L36.30,200.05 L36.71,200.07 L37.13,200.09 L37.54,200.11 L37.95,200.14 L38.36,200.16 L38.77,200.19 L39.18,200.22 L39.59,200.25 L40.00,200.28 L40.42,200.31 L40.83,200.34 L41.24,200.37 L41.65,200.41 L42.06,200.44 L42.47,200.47 L42.88,200.51 L43.29,200.55 L43.71,200.59 L44.12,200.62 L44.53,200.66 L44.94,200.70 L45.35,200.74 L45.76,200.79 L46.17,200.83 L46.58,200.87 L46.99,200.92 L47.41,200.96 L47.82,201.00 L48.23,201.05 L48.64,201.10 L49.05,201.14 L49.46,201.19 L49.87,201.24 L50.28,201.29 L50.70,201.34 L51.11,201.38 L51.52,201.43 L51.93,201.48 L52.34,201.54 L52.75,201.59 L53.16,201.64 L53.57,201.69 L53.99,201.74 L54.40,201.79 L54.81,201.85 L55.22,201.90 L55.63,201.95 L56.04,202.01 L56.45,202.06 L56.86,202.12 L57.28,202.17 L57.69,202.22 L58.10,202.28 L58.51,202.33 L58.92,202.39 L59.33,202.44 L59.74,202.50 L60.15,202.55 L60.57,202.61 L60.98,202.66 L61.39,202.72 L61.80,202.78 L62.21,202.83 L62.62,202.89 L63.03,202.94 L63.44,203.00 L63.85,203.05 L64.27,203.11 L64.68,203.16 L65.09,203.21 L65.50,203.27 L65.91,203.32 L66.32,203.38 L66.73,203.43 L67.14,203.48 L67.56,203.54 L67.97,203.59 L68.38,203.64 L68.79,203.70 L69.20,203.75 L69.61,203.80 L70.02,203.85 L70.43,203.90 L70.85,203.95 L71.26,204.00 L71.67,204.05 L72.08,204.10 L72.49,204.15 L72.90,204.20 L73.31,204.24 L73.72,204.29 L74.14,204.34 L74.55,204.38 L74.96,204.43 L75.37,204.47 L75.78,204.52 L76.19,204.56 L76.60,204.60 L77.01,204.64 L77.43,204.68 L77.84,204.72 L78.25,204.76 L78.66,204.80 L79.07,204.84 L79.48,204.88 L79.89,204.91 L80.30,204.95 L80.72,204.98 L81.13,205.02 L81.54,205.05 L81.95,205.08 L82.36,205.11 L82.77,205.14 L83.18,205.17 L83.59,205.20 L84.00,205.23 L84.42,205.25 L84.83,205.28 L85.24,205.30 L85.65,205.32 L86.06,205.34 L86.47,205.37 L86.88,205.38 L87.29,205.40 L87.71,205.42 L88.12,205.43 L88.53,205.45 L88.94,205.46 L89.35,205.47 L89.76,205.48 L90.17,205.49 L90.58,205.50 L91.00,205.51 L91.41,205.51 L91.82,205.52 L92.23,205.52 L92.64,205.52 L93.05,205.52 L93.46,205.52 L93.87,205.51 L94.29,205.51 L94.70,205.50 L95.11,205.49 L95.52,205.49 L95.93,205.47 L96.34,205.46 L96.75,205.45 L97.16,205.43 L97.58,205.41 L97.99,205.39 L98.40,205.37 L98.81,205.35 L99.22,205.33 L99.63,205.30 L100.04,205.27 L100.45,205.24 L100.86,205.21 L101.28,205.18 L101.69,205.15 L102.10,205.11 L102.51,205.08 L102.92,205.04 L103.33,205.00 L103.74,204.96 L104.15,204.91 L104.57,204.87 L104.98,204.82 L105.39,204.77 L105.80,204.72 L106.21,204.67 L106.62,204.62 L107.03,204.57 L107.44,204.51 L107.86,204.45 L108.27,204.40 L108.68,204.34 L109.09,204.27 L109.50,204.21 L109.91,204.15 L110.32,204.08 L110.73,204.01 L111.15,203.94 L111.56,203.88 L111.97,203.80 L112.38,203.73 L112.79,203.66 L113.20,203.58 L113.61,203.51 L114.02,203.43 L114.44,203.35 L114.85,203.27 L115.26,203.18 L115.67,203.10 L116.08,203.01 L116.49,202.93 L116.90,202.84 L117.31,202.75 L117.73,202.65 L118.14,202.56 L118.55,202.46 L118.96,202.36 L119.37,202.27 L119.78,202.16 L120.19,202.06 L120.60,201.96 L121.01,201.85 L121.43,201.75 L121.84,201.64 L122.25,201.53 L122.66,201.42 L123.07,201.31 L123.48,201.20 L123.89,201.08 L124.30,200.97 L124.72,200.85 L125.13,200.73 L125.54,200.61 L125.95,200.49 L126.36,200.37 L126.77,200.25 L127.18,200.13 L127.59,200.00 L128.01,199.87 L128.42,199.75 L128.83,199.62 L129.24,199.49 L129.65,199.36 L130.06,199.22 L130.47,199.09 L130.88,198.96 L131.30,198.82 L131.71,198.69 L132.12,198.55 L132.53,198.41 L132.94,198.27 L133.35,198.13 L133.76,197.99 L134.17,197.84 L134.59,197.70 L135.00,197.56 L135.41,197.41 L135.82,197.26 L136.23,197.12 L136.64,196.97 L137.05,196.82 L137.46,196.67 L137.87,196.52 L138.29,196.36 L138.70,196.21 L139.11,196.06 L139.52,195.90 L139.93,195.75 L140.34,195.59 L140.75,195.43 L141.16,195.27 L141.58,195.11 L141.99,194.95 L142.40,194.79 L142.81,194.63 L143.22,194.47 L143.63,194.31 L144.04,194.14 L144.45,193.98 L144.87,193.81 L145.28,193.65 L145.69,193.48 L146.10,193.31 L146.51,193.14 L146.92,192.97 L147.33,192.80 L147.74,192.63 L148.16,192.46 L148.57,192.29 L148.98,192.12 L149.39,191.95 L149.80,191.77 L150.21,191.60 L150.62,191.42 L151.03,191.25 L151.45,191.07 L151.86,190.90 L152.27,190.72 L152.68,190.54 L153.09,190.37 L153.50,190.19 L153.91,190.02 L154.32,189.84 L154.74,189.66 L155.15,189.49 L155.56,189.31 L155.97,189.13 L156.38,188.96 L156.79,188.78 L157.20,188.61 L157.61,188.43 L158.02,188.26 L158.44,188.09 L158.85,187.91 L159.26,187.74 L159.67,187.57 L160.08,187.40 L160.49,187.23 L160.90,187.06 L161.31,186.89 L161.73,186.73 L162.14,186.56 L162.55,186.40 L162.96,186.23 L163.37,186.07 L163.78,185.91 L164.19,185.75 L164.60,185.59 L165.02,185.43 L165.43,185.28 L165.84,185.13 L166.25,184.97 L166.66,184.82 L167.07,184.67 L167.48,184.53 L167.89,184.38 L168.31,184.24 L168.72,184.10 L169.13,183.96 L169.54,183.82 L169.95,183.69 L170.36,183.55 L170.77,183.42 L171.18,183.29 L171.60,183.17 L172.01,183.04 L172.42,182.92 L172.83,182.80 L173.24,182.69 L173.65,182.57 L174.06,182.46 L174.47,182.35 L174.88,182.25 L175.30,182.15 L175.71,182.05 L176.12,181.95 L176.53,181.85 L176.94,181.76 L177.35,181.68 L177.76,181.59 L178.17,181.51 L178.59,181.43 L179.00,181.36 L179.41,181.29 L179.82,181.22 L180.23,181.15 L180.64,181.09 L181.05,181.03 L181.46,180.98 L181.88,180.93 L182.29,180.89 L182.70,180.84 L183.11,180.80 L183.52,180.77 L183.93,180.74 L184.34,180.71 L184.75,180.69 L185.17,180.67 L185.58,180.66 L185.99,180.65 L186.40,180.64 L186.81,180.64 L187.22,180.64 L187.63,180.65 L188.04,180.67 L188.46,180.68 L188.87,180.70 L189.28,180.73 L189.69,180.76 L190.10,180.80 L190.51,180.84 L190.92,180.88 L191.33,180.93 L191.75,180.99 L192.16,181.05 L192.57,181.12 L192.98,181.19 L193.39,181.26 L193.80,181.35 L194.21,181.43 L194.62,181.53 L195.03,181.62 L195.45,181.73 L195.86,181.84 L196.27,181.95 L196.68,182.07 L197.09,182.20 L197.50,182.33 L197.91,182.47 L198.32,182.61 L198.74,182.76 L199.15,182.92 L199.56,183.08 L199.97,183.25 L200.38,183.42 L200.79,183.60 L201.20,183.79 L201.61,183.98 L202.03,184.18 L202.44,184.39 L202.85,184.60 L203.26,184.82 L203.67,185.05 L204.08,185.28 L204.49,185.52 L204.90,185.76 L205.32,186.02 L205.73,186.28 L206.14,186.54 L206.55,186.82 L206.96,187.10 L207.37,187.39 L207.78,187.68 L208.19,187.99 L208.61,188.30 L209.02,188.61 L209.43,188.94 L209.84,189.27 L210.25,189.61 L210.66,189.96 L211.07,190.31 L211.48,190.67 L211.89,191.04 L212.31,191.42 L212.72,191.81 L213.13,192.20 L213.54,192.60 L213.95,193.01 L214.36,193.43 L214.77,193.86 L215.18,194.29 L215.60,194.73 L216.01,195.19 L216.42,195.64 L216.83,196.11 L217.24,196.59 L217.65,197.07 L218.06,197.57 L218.47,198.07 L218.89,198.58 L219.30,199.10 L219.71,199.63 L220.12,200.16 L220.53,200.71 L220.94,201.26 L221.35,201.83 L221.76,202.40 L222.18,202.98 L222.59,203.57 L223.00,204.17 L223.41,204.78 L223.82,205.40 L224.23,206.03 L224.64,206.67 L225.05,207.32 L225.47,207.97 L225.88,208.64 L226.29,209.31 L226.70,210.00 L227.11,210.70 L227.52,211.40 L227.93,212.12 L228.34,212.84 L228.76,213.58 L229.17,214.32 L229.58,215.08 L229.99,215.85 L230.40,216.62" stroke="#7a7a7a" stroke-width="1.2"/>
</g></g>
<text x="20.4" y="203.8" font-size="11" text-anchor="middle">0</text>
<text x="26.2" y="226.8" font-size="11" text-anchor="middle">0</text>
<text x="200" y="244.2" font-size="11" text-anchor="middle">H</text>
<text x="216" y="226.8" font-size="11"><tspan font-style="italic">μ</tspan><tspan font-size="8.5" dy="1">I</tspan></text>
<text x="215" y="181.6" font-size="11" text-anchor="middle">(a)</text>
<text x="324.7" y="167.6" font-size="11" text-anchor="middle">(b)</text>
<text x="273.6" y="53.0" font-size="11" text-anchor="middle" letter-spacing="0.35">(c)</text>
<text x="323.1" y="81.7" font-size="11" text-anchor="middle">(d)</text>
<text transform="translate(9.5,123.7) rotate(-90)" font-size="11"><tspan font-style="italic">V</tspan><tspan font-size="8" dy="1.8" dx="-1.0">eff</tspan><tspan dy="-1.8" dx="0.1"> (H)</tspan></text>
</svg>
</body></html>
